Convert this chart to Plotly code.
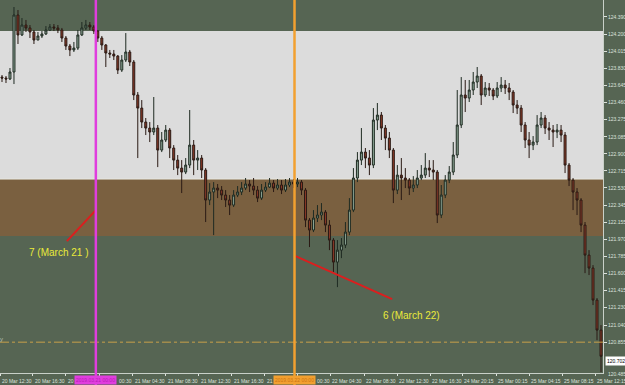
import plotly.graph_objects as go

# ---------------- data ----------------
first_open = 123.735
close = [123.724,123.714,123.790,124.409,124.192,124.300,124.268,124.224,124.137,124.181,
         124.203,124.246,124.279,124.268,124.246,124.159,124.072,124.029,124.050,124.192,
         124.268,124.300,124.279,124.235,124.159,124.083,123.996,123.985,123.963,123.811,
         123.920,124.007,123.898,123.540,123.398,123.246,123.181,123.138,123.181,122.942,
         123.051,123.159,122.964,122.833,122.746,122.703,122.779,122.996,122.833,122.855,
         122.725,122.399,122.486,122.529,122.507,122.453,122.399,122.344,122.453,122.486,
         122.529,122.573,122.551,122.507,122.420,122.507,122.540,122.583,122.529,122.562,
         122.507,122.562,122.594,122.573,122.594,122.507,122.181,122.073,122.203,122.236,
         122.268,122.127,121.964,121.725,121.855,121.910,122.051,122.290,122.638,122.833,
         122.920,122.855,122.779,123.268,123.322,123.181,123.072,122.942,122.507,122.670,
         122.638,122.616,122.529,122.562,122.638,122.670,122.746,122.725,122.703,122.236,
         122.453,122.616,122.703,122.888,123.214,123.540,123.507,123.594,123.681,123.746,
         123.540,123.616,123.594,123.529,123.616,123.648,123.616,123.572,123.431,123.398,
         123.214,123.051,122.996,123.029,123.214,123.290,123.181,123.159,123.138,123.159,
         123.105,122.779,122.616,122.486,122.399,122.127,121.801,121.660,121.312,120.986,
         120.702]
high = [123.757,123.746,123.833,124.496,124.463,124.376,124.355,124.300,124.246,124.224,
        124.235,124.289,124.311,124.311,124.300,124.268,124.181,124.094,124.116,124.246,
        124.333,124.355,124.333,124.300,124.246,124.181,124.094,124.029,124.029,123.974,
        123.974,124.213,124.029,123.920,123.572,123.485,123.290,123.246,123.518,123.214,
        123.138,123.214,123.181,122.996,122.888,122.833,122.855,123.377,123.051,122.942,
        122.888,122.746,122.583,122.594,122.573,122.551,122.507,122.453,122.507,122.551,
        122.594,122.638,122.616,122.638,122.551,122.573,122.594,122.638,122.616,122.627,
        122.616,122.627,122.638,122.627,122.638,122.616,122.529,122.203,122.290,122.344,
        122.366,122.290,122.181,121.986,121.964,121.986,122.160,122.420,122.746,122.920,
        123.181,122.964,122.942,123.398,123.453,123.355,123.214,123.138,122.964,122.779,
        122.855,122.746,122.638,122.659,122.725,122.779,122.909,122.833,122.833,122.725,
        122.562,122.670,122.768,123.029,123.594,123.735,123.703,123.703,123.790,123.844,
        123.768,123.681,123.670,123.616,123.681,123.735,123.703,123.670,123.594,123.485,
        123.431,123.246,123.138,123.094,123.322,123.355,123.322,123.246,123.214,123.225,
        123.214,123.138,122.801,122.638,122.529,122.420,122.160,121.855,121.692,121.334,
        121.040]
low = [123.681,123.670,123.703,123.659,124.094,124.181,124.224,124.159,124.094,124.137,
       124.159,124.192,124.235,124.235,124.213,124.116,124.029,123.963,124.007,124.029,
       124.181,124.246,124.246,124.203,124.116,124.029,123.844,123.942,123.920,123.768,
       123.790,123.898,123.855,123.485,122.855,123.181,123.105,123.029,123.105,122.757,
       122.920,123.029,122.855,122.725,122.670,122.475,122.681,122.746,122.670,122.725,
       122.638,122.160,122.344,122.018,122.420,122.399,122.323,122.236,122.323,122.431,
       122.453,122.507,122.486,122.453,122.377,122.399,122.486,122.529,122.486,122.507,
       122.464,122.486,122.540,122.529,122.540,122.453,122.105,121.888,122.051,122.160,
       122.181,122.051,121.855,121.616,121.453,121.768,121.877,122.018,122.268,122.594,
       122.779,122.746,122.670,122.746,123.159,123.051,122.942,122.855,122.366,122.464,
       122.399,122.529,122.453,122.486,122.529,122.616,122.638,122.649,122.616,122.149,
       122.203,122.420,122.583,122.670,122.855,123.181,123.355,123.464,123.540,123.616,
       123.431,123.518,123.529,123.485,123.507,123.572,123.551,123.485,123.344,123.333,
       123.138,122.964,122.855,122.942,122.996,123.181,123.116,123.051,122.975,123.072,
       123.029,122.692,122.551,122.290,122.236,122.051,121.605,121.584,121.258,120.877,
       120.530]
open_ = [first_open] + close[:-1]
bars = list(range(len(close)))

# y-axis price labels
price_ticks = [124.390,124.200,124.015,123.830,123.645,123.460,123.275,123.085,122.900,
               122.715,122.530,122.345,122.155,121.970,121.785,121.600,121.415,121.230,
               121.040,120.855]
# x-axis tick marks (bar positions)
time_tick_pos = [-0.5,7.75,16,24.5,32.75,41,49.25,57.5,65.75,74,82.25,90.75,99,107.25,
                 115.25,123.75,132,140.25,148.5]
# visible time labels (the ones partly hidden by the day boxes show only their visible part)
time_label_pos = [-0.5,7.75,16,28.8,32.75,41,49.25,57.5,65.75,78.3,82.25,90.75,99,107.25,
                  115.25,123.75,132,140.25,148.5]
time_label_text = ["20 Mar 12:30","20 Mar 16:30","20 M","00:30","21 Mar 04:30",
                   "21 Mar 08:30","21 Mar 12:30","21 Mar 16:30","21 M","00:30",
                   "22 Mar 04:30","22 Mar 08:30","22 Mar 12:30","22 Mar 16:30","24 Mar 20:15",
                   "25 Mar 00:15","25 Mar 04:15","25 Mar 08:15","25 Mar 12:15"]

# zones
grey_zone = [122.627, 124.235]
brown_zone = [122.008, 122.627]
# vertical day separators
day_lines_x = [23.5, 73.25]
day_lines_text = ["2019.03.21 00:00", "2019.03.22 00:00"]
day_lines_color = ["#e03ede", "#f2a030"]
day_lines_textcolor = ["#b81cb6", "#cc7410"]
# trend lines and their notes
trend1_x = [16.25, 23.5]; trend1_y = [121.953, 122.290]
trend2_x = [73.5, 97.7]; trend2_y = [121.790, 121.323]
note1 = dict(x=14.2, y=121.833, text="7 (March 21 )")
note2 = dict(x=102.5, y=121.147, text="6 (March 22)")
level_line = 120.855
last_price = 120.702

BG = "#566553"
fig = go.Figure()
fig.add_trace(go.Candlestick(
    x=bars, open=open_, high=high, low=low, close=close,
    increasing=dict(line=dict(color="#1f2b22", width=1), fillcolor="#8fa898"),
    decreasing=dict(line=dict(color="#2a1a14", width=1), fillcolor="#8c3a28"),
    whiskerwidth=0, showlegend=False, hoverinfo="skip"))

shapes = [
    dict(type="rect", xref="paper", yref="y", x0=0, x1=1, y0=grey_zone[0], y1=grey_zone[1],
         fillcolor="#dcdcdc", line=dict(width=0), layer="below"),
    dict(type="rect", xref="paper", yref="y", x0=0, x1=1, y0=brown_zone[0], y1=brown_zone[1],
         fillcolor="#7a6040", line=dict(width=0), layer="below"),
    dict(type="line", xref="paper", yref="y", x0=0, x1=1, y0=grey_zone[0], y1=grey_zone[0],
         line=dict(color="#e8e8e0", width=1), layer="below"),
    dict(type="line", xref="paper", yref="y", x0=0, x1=1, y0=level_line, y1=level_line,
         line=dict(color="#c8a04a", width=1, dash="dashdot")),
    dict(type="line", xref="x", yref="y", x0=trend1_x[0], x1=trend1_x[1], y0=trend1_y[0], y1=trend1_y[1],
         line=dict(color="#dc1e1e", width=2)),
    dict(type="line", xref="x", yref="y", x0=trend2_x[0], x1=trend2_x[1], y0=trend2_y[0], y1=trend2_y[1],
         line=dict(color="#dc1e1e", width=2)),
]
for xv, col in zip(day_lines_x, day_lines_color):
    shapes.append(dict(type="line", xref="x", yref="paper", x0=xv, x1=xv, y0=-0.032, y1=1,
                       line=dict(color=col, width=2.5)))

annotations = []
for xv, t in zip(time_label_pos, time_label_text):
    annotations.append(dict(x=xv, y=0, xref="x", yref="paper", text=t, showarrow=False,
                            xanchor="left", yanchor="top", xshift=0, yshift=-3,
                            font=dict(family="Liberation Sans", size=5, color="#dde2dd")))
for xv, t, col, tc in zip(day_lines_x, day_lines_text, day_lines_color, day_lines_textcolor):
    annotations.append(dict(x=xv, y=0, xref="x", yref="paper", text=t, showarrow=False,
                            xanchor="center", yanchor="top", yshift=-2, bgcolor=col,
                            borderpad=1,
                            font=dict(family="Liberation Sans", size=5, color=tc)))
for n in (note1, note2):
    annotations.append(dict(x=n["x"], y=n["y"], xref="x", yref="y", text=n["text"],
                            showarrow=False, xanchor="center", yanchor="middle",
                            font=dict(family="Liberation Sans", size=10, color="#eaea3a")))
annotations += [
    dict(x=1, y=last_price, xref="paper", yref="y", text=f"{last_price:.3f}", showarrow=False,
         xanchor="left", yanchor="middle", xshift=2, yshift=-5, bgcolor="#ffffff", borderpad=1,
         font=dict(family="Liberation Sans", size=5, color="#000000")),
    dict(x=1, y=0, xref="paper", yref="paper", text="120.485", showarrow=False,
         xanchor="left", yanchor="middle", xshift=3, yshift=-1,
         font=dict(family="Liberation Sans", size=5, color="#dde2dd")),
    dict(x=1, y=1, xref="paper", yref="paper", text="124.575", showarrow=False,
         xanchor="left", yanchor="middle", xshift=3, yshift=2,
         font=dict(family="Liberation Sans", size=5, color="#dde2dd")),
    dict(x=0, y=120.888, xref="paper", yref="y", text="y", showarrow=False,
         xanchor="left", yanchor="middle", xshift=-2,
         font=dict(family="Liberation Sans", size=6, color="#b8c0b8")),
]

fig.update_layout(
    width=625, height=385,
    margin=dict(l=0, r=22, t=0, b=12),
    paper_bgcolor=BG, plot_bgcolor=BG,
    shapes=shapes, annotations=annotations,
    xaxis=dict(range=[-0.5, 150.5], rangeslider=dict(visible=False), showgrid=False,
               zeroline=False, tickvals=time_tick_pos, showticklabels=False,
               ticks="outside", ticklen=2, tickcolor="#dde2dd",
               showline=True, linecolor="#c8d0c8", linewidth=1),
    yaxis=dict(range=[120.52, 124.572], side="right", showgrid=False, zeroline=False,
               tickvals=price_ticks, ticktext=[f"{v:.3f}" for v in price_ticks],
               ticks="outside", ticklen=3, tickcolor="#dde2dd",
               tickfont=dict(family="Liberation Sans", size=5, color="#dde2dd"),
               showline=True, linecolor="#c8d0c8", linewidth=1),
    hovermode=False,
)
fig.write_html("out.html")
